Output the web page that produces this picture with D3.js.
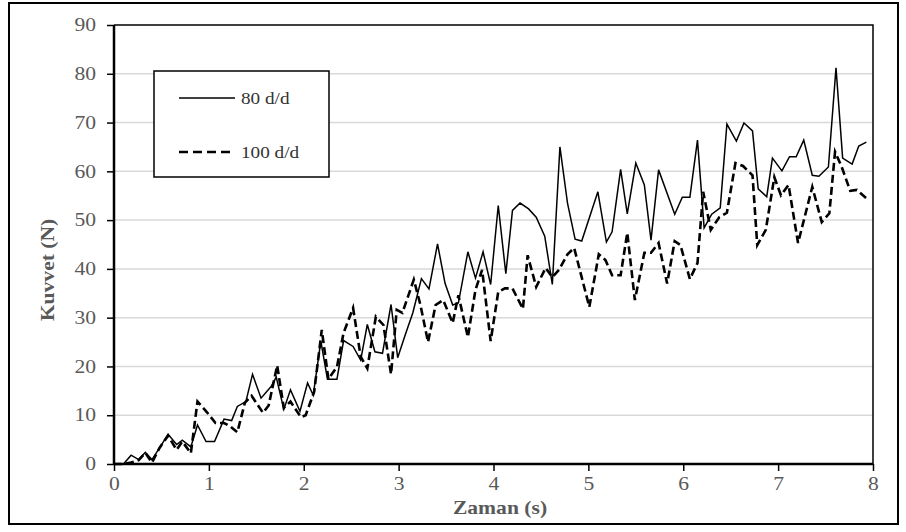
<!DOCTYPE html>
<meta charset="utf-8">
<script src="https://cdn.jsdelivr.net/npm/d3@7/dist/d3.min.js"></script>
<style>
  body { margin: 0; background: #fff; }
  text { font-family: "Liberation Serif", "Times New Roman", serif; }
</style>
<body>
<script>

// series values: [time (s), force (N)]
var seri80 = [[0,0],[0.1,0],[0.18,1.8],[0.26,0.9],[0.33,2.4],[0.4,0.9],[0.48,3.3],[0.57,6.1],[0.66,4],[0.72,4.9],
  [0.81,3.5],[0.88,8],[0.97,4.6],[1.06,4.6],[1.16,9.2],[1.24,8.9],[1.3,11.8],[1.39,12.8],[1.46,18.4],[1.55,13.5],
  [1.66,16],[1.71,17.8],[1.79,11.2],[1.86,15.2],[1.96,10.8],[2.04,16.6],[2.1,14.1],[2.18,25.2],[2.25,17.4],[2.35,17.4],
  [2.42,25.3],[2.52,24.1],[2.6,21.3],[2.67,28.6],[2.75,23],[2.83,22.7],[2.92,32.7],[2.99,21.8],[3.07,26.5],[3.15,31],
  [3.24,38],[3.32,35.9],[3.41,45.1],[3.49,37],[3.57,32.6],[3.63,33],[3.73,43.5],[3.81,38.1],[3.89,43.5],[3.97,36.8],
  [4.05,53],[4.13,39],[4.2,52],[4.28,53.5],[4.37,52.3],[4.45,50.6],[4.54,46.7],[4.62,36.8],[4.7,65],[4.78,53.5],
  [4.86,46.1],[4.93,45.7],[5.1,55.8],[5.19,45.5],[5.25,47.6],[5.34,60.4],[5.41,51.3],[5.5,61.7],[5.59,57.2],[5.66,45.9],
  [5.74,60.3],[5.91,51.2],[5.99,54.7],[6.07,54.7],[6.15,66.4],[6.22,48.4],[6.3,51.2],[6.39,52.5],[6.46,69.7],[6.56,66.2],
  [6.64,69.9],[6.73,68.3],[6.79,56.4],[6.88,54.8],[6.94,62.7],[7.04,60.1],[7.12,63],[7.19,63],[7.27,66.4],[7.36,59.2],
  [7.43,59],[7.53,60.9],[7.61,81.2],[7.68,62.7],[7.78,61.5],[7.85,65.2],[7.93,66]];

var seri100 = [[0,0],[0.1,0],[0.18,0.3],[0.26,0.8],[0.33,2.3],[0.4,0.3],[0.48,3.3],[0.57,5.8],[0.66,2.9],[0.72,4.6],
  [0.81,2.2],[0.88,12.8],[0.98,10.6],[1.07,8.4],[1.16,8.4],[1.22,7.8],[1.3,6.5],[1.38,12.6],[1.45,14],[1.57,10.5],
  [1.63,12],[1.72,20.2],[1.79,11.5],[1.86,12.8],[1.97,9.6],[2.02,10],[2.11,14.8],[2.19,27.5],[2.26,17.4],[2.35,19.9],
  [2.42,26.9],[2.52,32],[2.6,22],[2.67,19.6],[2.76,30.2],[2.84,28.5],[2.92,18.4],[2.98,31.6],[3.04,31],[3.16,37.8],
  [3.23,32.6],[3.31,25],[3.39,32.6],[3.47,33.6],[3.57,28.9],[3.63,34.6],[3.73,26],[3.81,35.7],[3.88,39.8],[3.97,25.2],
  [4.05,35.3],[4.12,36],[4.2,36],[4.31,31.8],[4.36,42.8],[4.45,36.3],[4.55,40.2],[4.62,38.3],[4.69,39.8],[4.78,43],
  [4.85,44.3],[5.01,32.2],[5.11,43],[5.18,41.8],[5.25,38.7],[5.34,38.7],[5.41,47.4],[5.49,33.6],[5.59,43.3],[5.66,43.3],
  [5.74,45.3],[5.83,37],[5.91,45.7],[5.97,44.9],[6.07,37.9],[6.15,41.2],[6.21,55.8],[6.29,48],[6.38,50.6],[6.46,51.5],
  [6.55,61.7],[6.63,61.1],[6.73,59.2],[6.78,44.9],[6.87,48],[6.96,58.8],[7.03,55.1],[7.11,57.2],[7.21,45.3],[7.36,56.8],
  [7.46,49.6],[7.54,51.4],[7.6,64],[7.67,60.9],[7.76,56],[7.83,56.2],[7.94,54.3]];

var seriesNames = ["80 d/d", "100 d/d"];
var xTicks = [0, 1, 2, 3, 4, 5, 6, 7, 8];
var yTicks = [0, 10, 20, 30, 40, 50, 60, 70, 80, 90];

var width = 906, height = 532;
var plot = {left: 114, right: 873, top: 25, bottom: 464};
var stretch = 1.2; // text in the original is a bit wide

var svg = d3.select("body").append("svg")
    .attr("width", width)
    .attr("height", height);

// outer frame
svg.append("rect")
    .attr("x", 9).attr("y", 3)
    .attr("width", 889).attr("height", 521)
    .attr("fill", "none").attr("stroke", "#000").attr("stroke-width", 2);

var x = d3.scaleLinear().domain([0, 8]).range([plot.left, plot.right]);
var y = d3.scaleLinear().domain([0, 90]).range([plot.bottom, plot.top]);

// gridlines
svg.append("g").selectAll("line")
    .data(yTicks.slice(1, -1))
    .enter().append("line")
    .attr("x1", plot.left).attr("x2", plot.right)
    .attr("y1", function(d) { return y(d); })
    .attr("y2", function(d) { return y(d); })
    .attr("stroke", "#d9d9d9").attr("stroke-width", 1.5);

// top + right border of plot area
svg.append("path")
    .attr("d", "M" + plot.left + "," + plot.top + "H" + plot.right + "V" + plot.bottom)
    .attr("fill", "none").attr("stroke", "#000").attr("stroke-width", 1.5);

// axes
var xAxis = svg.append("g")
    .attr("transform", "translate(0," + plot.bottom + ")")
    .call(d3.axisBottom(x).tickValues(xTicks).tickSize(7).tickPadding(6).tickFormat(d3.format("d")));
var yAxis = svg.append("g")
    .attr("transform", "translate(" + plot.left + ",0)")
    .call(d3.axisLeft(y).tickValues(yTicks).tickSize(7).tickPadding(8).tickFormat(d3.format("d")));

[xAxis, yAxis].forEach(function(a) {
    a.select(".domain").attr("stroke", "#000").attr("stroke-width", 2.5);
    a.selectAll(".tick line").attr("stroke", "#000").attr("stroke-width", 1.5);
    a.selectAll(".tick text")
        .attr("fill", "#595959")
        .attr("transform", "scale(" + stretch + ",1)")
        .style("font-size", "18px");
});
xAxis.select(".domain").attr("d", "M" + plot.left + ",0H" + plot.right);
yAxis.select(".domain").attr("d", "M0," + plot.top + "V" + plot.bottom);

// axis titles
svg.append("text")
    .attr("transform", "translate(500,514) scale(" + stretch + ",1)")
    .attr("text-anchor", "middle")
    .attr("fill", "#595959")
    .style("font-size", "18px").style("font-weight", "bold")
    .text("Zaman (s)");

svg.append("text")
    .attr("transform", "translate(54,270) rotate(-90) scale(" + stretch + ",1)")
    .attr("text-anchor", "middle")
    .attr("fill", "#595959")
    .style("font-size", "18px").style("font-weight", "bold")
    .text("Kuvvet (N)");

// lines
var line = d3.line()
    .x(function(d) { return x(d[0]); })
    .y(function(d) { return y(d[1]); });

svg.append("path")
    .datum(seri80)
    .attr("d", line)
    .attr("fill", "none").attr("stroke", "#000")
    .attr("stroke-width", 1.5);

svg.append("path")
    .datum(seri100)
    .attr("d", line)
    .attr("fill", "none").attr("stroke", "#000")
    .attr("stroke-width", 2.6).attr("stroke-dasharray", "8,4");

// legend
var legend = svg.append("g");
legend.append("rect")
    .attr("x", 154).attr("y", 71)
    .attr("width", 175).attr("height", 106)
    .attr("fill", "#fff").attr("stroke", "#000").attr("stroke-width", 1.5);

var legendRows = legend.selectAll(".row")
    .data(seriesNames)
    .enter().append("g")
    .attr("class", "row")
    .attr("transform", function(d, i) { return "translate(0," + (98 + i * 54) + ")"; });

legendRows.append("line")
    .attr("x1", 179).attr("x2", 235)
    .attr("stroke", "#000")
    .attr("stroke-width", function(d, i) { return i ? 2.6 : 1.5; })
    .attr("stroke-dasharray", function(d, i) { return i ? "9,5" : null; });

legendRows.append("text")
    .attr("transform", "translate(241,6) scale(" + stretch + ",1)")
    .attr("fill", "#333")
    .style("font-size", "16px")
    .text(function(d) { return d; });

</script>
</body>
